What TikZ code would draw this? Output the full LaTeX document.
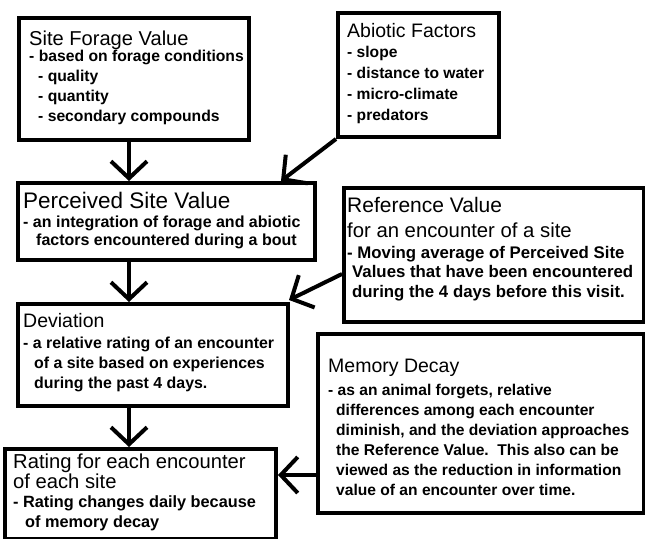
\documentclass[tikz,border=0pt]{standalone}
\usepackage{fontspec}
\setmainfont{Liberation Sans}
\usepackage{tikz}
\usetikzlibrary{arrows.meta, calc}

\newcommand{\boxtitle}[2][19.5]{{\fontsize{#1}{24}\selectfont\mdseries #2}}
\newcommand{\firstline}{\rule{0pt}{17pt}}

\begin{document}
\begin{tikzpicture}[
  x=1pt, y=-1pt,
  box/.style={draw, line width=4pt, anchor=north west, inner sep=0pt},
  txt/.style={anchor=north west, align=left, inner sep=0pt,
    font=\fontsize{#1}{20}\selectfont\bfseries},
  txt/.default=15.6,
  flow/.style={line width=4pt, -{Straight Barb[length=17pt, width=36pt]}}
]
\useasboundingbox (0,0) rectangle (645,538);

% boxes
\node[box, minimum width=230, minimum height=122] (forage) at (17,16) {};
\node[box, minimum width=161, minimum height=124] (abiotic) at (336,11) {};
\node[box, minimum width=297, minimum height=77] (perceived) at (16,181) {};
\node[box, minimum width=300, minimum height=134] (reference) at (342,186) {};
\node[box, minimum width=270, minimum height=102] (deviation) at (16,302) {};
\node[box, minimum width=326, minimum height=179] (memory) at (316,332) {};
\node[box, minimum width=271, minimum height=90] (rating) at (3,447) {};

% texts (top = first baseline - 17)
\node[txt=15.7] (forage-t) at (29,28) {\firstline\boxtitle[20.1]{Site Forage Value}\\[-4pt]
  - based on forage conditions\\
  \hspace*{9pt}- quality\\
  \hspace*{9pt}- quantity\\
  \hspace*{9pt}- secondary compounds};
\node[txt] (abiotic-t) at (347,20) {\firstline\boxtitle{Abiotic Factors}\\
  - slope\\[1pt]
  - distance to water\\[1pt]
  - micro-climate\\[1pt]
  - predators};
\node[txt=16] (perceived-t) at (23,191) {\firstline\boxtitle[22.5]{Perceived Site Value}\\[-1pt]
  - an integration of forage and abiotic\\[-2pt]
  \hspace*{13pt}factors encountered during a bout};
\node[txt=16.8] (reference-t) at (347,195) {\firstline\boxtitle[21]{Reference Value}\\[5pt]
  \boxtitle[20.3]{for an encounter of a site}\\[1pt]
  - Moving average of Perceived Site\\[-0.5pt]
  \hspace*{5pt}Values that have been encountered\\[-0.5pt]
  \hspace*{5pt}during the 4 days before this visit.};
\node[txt=15.9] (deviation-t) at (23,310) {\firstline\boxtitle{Deviation}\\[1pt]
  - a relative rating of an encounter\\
  \hspace*{11pt}of a site based on experiences\\
  \hspace*{11pt}during the past 4 days.};
\node[txt] (memory-t) at (328,355) {\firstline\boxtitle{Memory Decay}\\[3pt]
  - as an animal forgets, relative\\
  \hspace*{8pt}differences among each encounter\\
  \hspace*{8pt}diminish, and the deviation approaches\\
  \hspace*{8pt}the Reference Value.\ \ This also can be\\
  \hspace*{8pt}viewed as the reduction in information\\
  \hspace*{8pt}value of an encounter over time.};
\node[txt=16.3] (rating-t) at (13,451) {\firstline\boxtitle[20.2]{Rating for each encounter}\\
  \boxtitle[20.2]{of each site}\\[-1pt]
  - Rating changes daily because\\
  \hspace*{12pt}of memory decay};

% connectors
\coordinate (spine) at (129,0);
\coordinate (ref-out) at ($(reference.west)+(0,19)$);
\coordinate (mem-out) at ($(memory.west)+(0,51.5)$);
\draw[flow] (forage.south -| spine) -- (perceived.north -| spine);
\draw[flow] (abiotic.south west) -- ($(perceived.north east)+(-36,0)$);
\draw[flow] (perceived.south -| spine) -- (deviation.north -| spine);
\draw[flow] (ref-out) -- ($(deviation.north east)+(-1,-2)$);
\draw[flow] (deviation.south -| spine) -- (rating.north -| spine);
\draw[flow] (mem-out) -- (mem-out -| rating.east);
\end{tikzpicture}
\end{document}
